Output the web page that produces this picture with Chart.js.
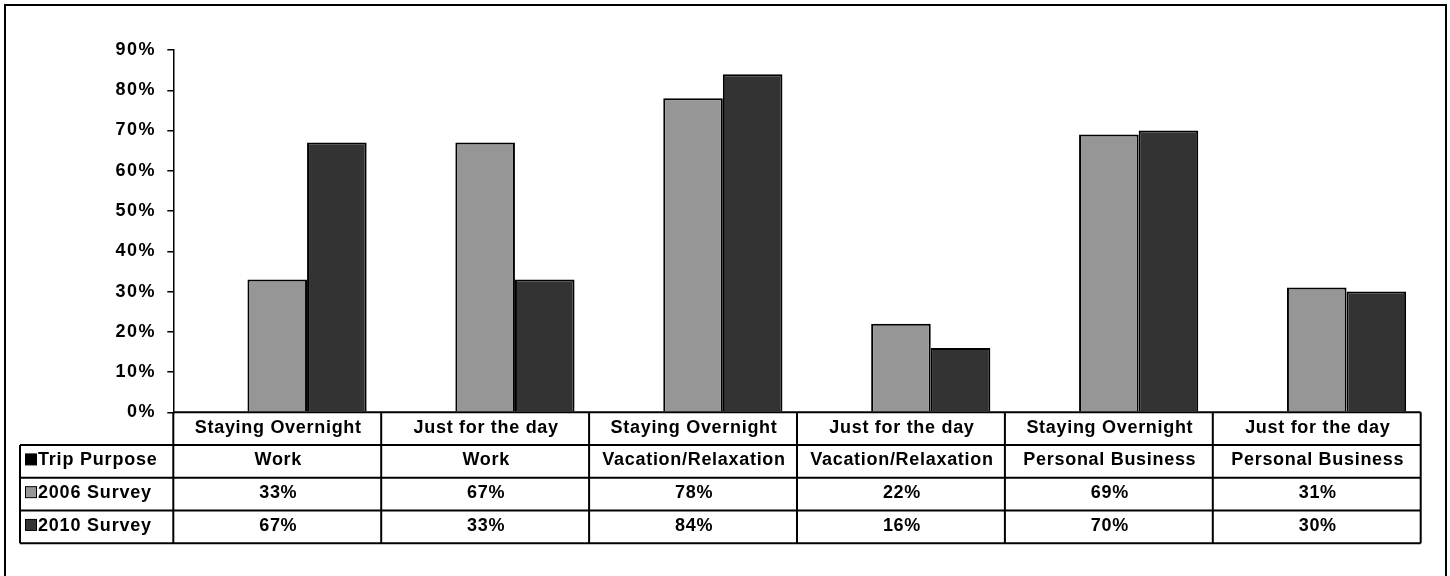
<!DOCTYPE html>
<html>
<head>
<meta charset="utf-8">
<script src="https://cdn.jsdelivr.net/npm/chart.js"></script>
<style>
  html, body { margin: 0; padding: 0; background: #fff; }
  body { width: 1450px; height: 576px; position: relative; overflow: hidden; }
  #frame { position: absolute; left: 4px; top: 4px; width: 1439px; height: 640px; border: 2px solid #000; }
  #wrap { position: absolute; left: 0; top: 0; width: 1450px; height: 576px; }
</style>
</head>
<body>
<div id="frame"></div>
<div id="wrap"><canvas id="tripChart"></canvas></div>
<script>
// data
var categories = ['Staying Overnight', 'Just for the day', 'Staying Overnight', 'Just for the day', 'Staying Overnight', 'Just for the day'];
var tripPurpose = ['Work', 'Work', 'Vacation/Relaxation', 'Vacation/Relaxation', 'Personal Business', 'Personal Business'];
var survey2006 = [33, 67, 78, 22, 69, 31];
var survey2010 = [67, 33, 84, 16, 70, 30];
var seriesNames = ['Trip Purpose', '2006 Survey', '2010 Survey'];
var seriesColors = ['#000000', '#969696', '#333333'];

var FONT = 'bold 18px "Liberation Sans", Arial, sans-serif';

// data table under the plot (Excel style), aligned on the x scale
var tablePlugin = {
  id: 'dataTable',
  beforeDraw: function(chart) {
    chart.ctx.letterSpacing = '1.4px';
  },
  afterDraw: function(chart) {
    var ctx = chart.ctx, a = chart.chartArea, xs = chart.scales.x;
    var n = categories.length;
    var colW = (a.right - a.left) / n;
    var rowH = 32.75;
    var top = a.bottom;
    var labLeft = 20;
    var rows = [top, top + rowH, top + rowH * 2, top + rowH * 3, top + rowH * 4];

    ctx.save();
    ctx.strokeStyle = '#000';
    ctx.lineWidth = 2;
    ctx.beginPath();
    // axis / header top
    ctx.moveTo(a.left, rows[0]); ctx.lineTo(a.right, rows[0]);
    for (var r = 1; r < rows.length; r++) {
      ctx.moveTo(labLeft, rows[r]); ctx.lineTo(a.right, rows[r]);
    }
    // verticals
    ctx.moveTo(labLeft, rows[1]); ctx.lineTo(labLeft, rows[4]);
    for (var c = 0; c <= n; c++) {
      var x = a.left + c * colW;
      ctx.moveTo(x, rows[0]); ctx.lineTo(x, rows[4]);
    }
    ctx.stroke();

    ctx.font = FONT;
    ctx.fillStyle = '#000';
    ctx.letterSpacing = '0.7px';
    ctx.textAlign = 'center';
    ctx.textBaseline = 'middle';
    var lines = [categories, tripPurpose,
      survey2006.map(function(v) { return v + '%'; }),
      survey2010.map(function(v) { return v + '%'; })];
    lines.forEach(function(vals, r) {
      var cy = (rows[r] + rows[r + 1]) / 2 - 1;
      vals.forEach(function(t, i) {
        ctx.fillText(t, xs.getPixelForValue(i) + 1, cy);
      });
    });

    // row labels with legend keys
    ctx.textAlign = 'left';
    ctx.letterSpacing = '0.8px';
    seriesNames.forEach(function(name, i) {
      var cy = (rows[i + 1] + rows[i + 2]) / 2 - 1;
      ctx.fillStyle = seriesColors[i];
      ctx.fillRect(25.5, cy - 6.5, 11, 11);
      ctx.lineWidth = 1;
      ctx.strokeStyle = '#000';
      ctx.strokeRect(25.5, cy - 6.5, 11, 11);
      ctx.fillStyle = '#000';
      ctx.fillText(name, 38, cy);
    });
    ctx.restore();
  }
};

new Chart(document.getElementById('tripChart'), {
  type: 'bar',
  data: {
    labels: categories,
    datasets: [
      { label: seriesNames[0], data: categories.map(function() { return null; }), backgroundColor: seriesColors[0], borderColor: '#000', borderWidth: 2 },
      { label: seriesNames[1], data: survey2006, backgroundColor: seriesColors[1], borderColor: '#000', borderWidth: 2 },
      { label: seriesNames[2], data: survey2010, backgroundColor: seriesColors[2], borderColor: '#000', borderWidth: 2 }
    ]
  },
  options: {
    responsive: true,
    maintainAspectRatio: false,
    animation: false,
    categoryPercentage: 0.86,
    barPercentage: 1.0,
    layout: { padding: { top: 50, right: 29.3, bottom: 163.7, left: 0 } },
    plugins: { legend: { display: false }, tooltip: { enabled: false } },
    scales: {
      x: { display: false },
      y: {
        min: 0, max: 90,
        afterFit: function(s) { s.width = 173.3; },
        ticks: {
          stepSize: 10, padding: 11.5, color: '#000',
          font: { family: '"Liberation Sans", Arial, sans-serif', size: 18, weight: 'bold' },
          callback: function(v) { return v + '%'; }
        },
        grid: { drawOnChartArea: false, drawTicks: true, tickLength: 6, color: '#000', lineWidth: 1.5 },
        border: { display: true, color: '#000', width: 1.5 }
      }
    }
  },
  plugins: [tablePlugin]
});
</script>
</body>
</html>
